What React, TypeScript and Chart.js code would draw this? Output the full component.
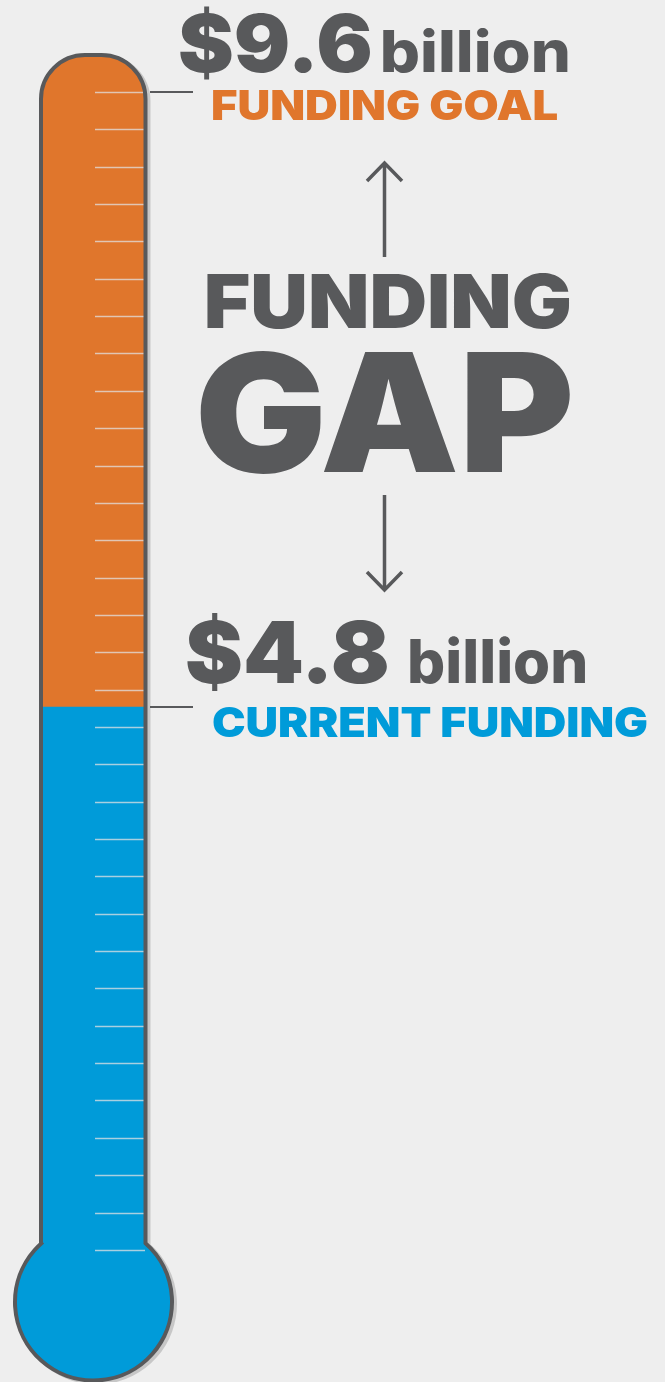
import React, { useEffect, useRef } from "react";
import { Chart, registerables } from "chart.js";

Chart.register(...registerables);

// ---- data ----
const categories = ["Funding"];
const currentFunding = [4.8];
const fundingGap = [4.8];
const goalTotal = [9.6];
const amountLabels = ["$9.6", "$4.8"];
const unitLabels = ["billion", "billion"];
const seriesLabels = ["FUNDING GOAL", "CURRENT FUNDING"];
const centerLabels = ["FUNDING", "GAP"];

// ---- styles ----
const GRAY = "#58595b";
const ORANGE = "#e0762c";
const BLUE = "#009bd9";
const BG = "#eeeeee";
const FONT = "Inter, 'Open Sans', 'DejaVu Sans', sans-serif";

function drawFit(
  ctx: CanvasRenderingContext2D,
  text: string,
  left: number,
  right: number,
  baseline: number,
  capHeight: number,
  color: string,
  weight = 900
) {
  ctx.save();
  ctx.font = `${weight} 100px ${FONT}`;
  const cap = ctx.measureText("H").actualBoundingBoxAscent || 72;
  const size = (100 * capHeight) / cap;
  ctx.font = `${weight} ${size}px ${FONT}`;
  const m = ctx.measureText(text);
  const inkW = m.actualBoundingBoxLeft + m.actualBoundingBoxRight;
  const sx = (right - left) / inkW;
  ctx.translate(left, baseline);
  ctx.scale(sx, 1);
  ctx.fillStyle = color;
  ctx.textAlign = "left";
  ctx.textBaseline = "alphabetic";
  ctx.fillText(text, m.actualBoundingBoxLeft, 0);
  ctx.restore();
}

function tubePath(ctx: CanvasRenderingContext2D, area: any, dx = 0, dy = 0) {
  const L = area.left - 1 + dx;
  const R = area.right + 0.5 + dx;
  const cx = (area.left + area.right) / 2 + dx;
  const cy = area.bottom - 20 + dy;
  const br = 78.5;
  const top = 55 + dy;
  const r = 44;
  const neckY = cy - Math.sqrt(br * br - (R - cx) * (R - cx));
  const aR = Math.atan2(neckY - cy, R - cx);
  const aL = Math.atan2(neckY - cy, L - cx);
  ctx.beginPath();
  ctx.moveTo(L, neckY);
  ctx.lineTo(L, top + r);
  ctx.arcTo(L, top, L + r, top, r);
  ctx.lineTo(R - r, top);
  ctx.arcTo(R, top, R, top + r, r);
  ctx.lineTo(R, neckY);
  ctx.arc(cx, cy, br, aR, aL, false);
  ctx.closePath();
  return { cx, cy, br };
}

const thermoPlugin = {
  id: "thermo",
  beforeDraw(chart: any) {
    const ctx = chart.ctx;
    ctx.save();
    ctx.fillStyle = BG;
    ctx.fillRect(0, 0, chart.width, chart.height);
    ctx.restore();
  },
  beforeDatasetsDraw(chart: any) {
    const ctx = chart.ctx;
    const area = chart.chartArea;
    ctx.save();
    // shadow
    tubePath(ctx, area, 3, 2);
    ctx.lineWidth = 4;
    ctx.strokeStyle = "rgba(0,0,0,0.16)";
    ctx.stroke();
    // cap fill (above goal) orange
    tubePath(ctx, area);
    ctx.fillStyle = ORANGE;
    ctx.fill();
    // bulb blue
    const { cx, cy, br } = tubePath(ctx, area);
    ctx.beginPath();
    ctx.arc(cx, cy, br, 0, Math.PI * 2);
    ctx.fillStyle = BLUE;
    ctx.fill();
    ctx.restore();
  },
  afterDatasetsDraw(chart: any) {
    const ctx = chart.ctx;
    const area = chart.chartArea;
    const y = chart.scales.y;
    const yGoal = y.getPixelForValue(goalTotal[0]);
    const yCur = y.getPixelForValue(currentFunding[0]);
    ctx.save();
    // tick marks
    ctx.strokeStyle = "rgba(225,225,225,0.75)";
    ctx.lineWidth = 1.5;
    const tickGap = 37.35;
    for (let i = 0; i < 32; i++) {
      const ty = Math.round(yGoal + i * tickGap) + 0.5;
      ctx.beginPath();
      ctx.moveTo(95, ty);
      ctx.lineTo(area.right, ty);
      ctx.stroke();
    }
    // outline
    tubePath(ctx, area);
    ctx.lineWidth = 4;
    ctx.strokeStyle = GRAY;
    ctx.stroke();
    // leader lines
    ctx.lineWidth = 2;
    ctx.beginPath();
    ctx.moveTo(150, yGoal);
    ctx.lineTo(193, yGoal);
    ctx.moveTo(150, yCur);
    ctx.lineTo(193, yCur);
    ctx.stroke();
    // arrows
    ctx.lineWidth = 3.5;
    ctx.lineCap = "butt";
    ctx.beginPath();
    ctx.moveTo(384.5, 257);
    ctx.lineTo(384.5, 163);
    ctx.moveTo(367, 181);
    ctx.lineTo(384.5, 163);
    ctx.lineTo(402, 181);
    ctx.moveTo(384.5, 495);
    ctx.lineTo(384.5, 590);
    ctx.moveTo(367, 572);
    ctx.lineTo(384.5, 590);
    ctx.lineTo(402, 572);
    ctx.stroke();
    ctx.restore();
  },
  afterDraw(chart: any) {
    const ctx = chart.ctx;
    drawFit(ctx, amountLabels[0], 180, 370, 72, 58, GRAY);
    drawFit(ctx, unitLabels[0], 383, 568, 72, 42, GRAY, 800);
    drawFit(ctx, seriesLabels[0], 212, 558, 120, 30, ORANGE);
    drawFit(ctx, centerLabels[0], 207, 570, 328, 54, GRAY);
    drawFit(ctx, centerLabels[1], 200, 570, 472, 120, GRAY);
    drawFit(ctx, amountLabels[1], 187, 387, 683, 62, GRAY);
    drawFit(ctx, unitLabels[1], 410, 585, 683, 44, GRAY, 800);
    drawFit(ctx, seriesLabels[1], 213, 647, 737, 30, BLUE);
  },
};

export default function App() {
  const ref = useRef<HTMLCanvasElement | null>(null);
  useEffect(() => {
    document.body.style.margin = "0";
    document.body.style.background = BG;
    const canvas = ref.current;
    if (!canvas) return;
    const chart = new Chart(canvas, {
      type: "bar",
      data: {
        labels: categories,
        datasets: [
          {
            label: "Current funding",
            data: currentFunding,
            backgroundColor: BLUE,
            borderWidth: 0,
            barPercentage: 1,
            categoryPercentage: 1,
          },
          {
            label: "Funding gap",
            data: fundingGap,
            backgroundColor: ORANGE,
            borderWidth: 0,
            barPercentage: 1,
            categoryPercentage: 1,
          },
        ],
      },
      options: {
        responsive: false,
        animation: false,
        layout: { padding: { left: 42, right: 520, top: 92, bottom: 60 } },
        scales: {
          x: { stacked: true, display: false },
          y: { stacked: true, display: false, min: 0, max: goalTotal[0] },
        },
        plugins: {
          legend: { display: false },
          tooltip: { enabled: false },
        },
      },
      plugins: [thermoPlugin],
    } as any);
    return () => chart.destroy();
  }, []);
  return (
    <div style={{ width: 665, height: 1382 }}>
      <canvas ref={ref} width={665} height={1382} style={{ display: "block" }} />
    </div>
  );
}
